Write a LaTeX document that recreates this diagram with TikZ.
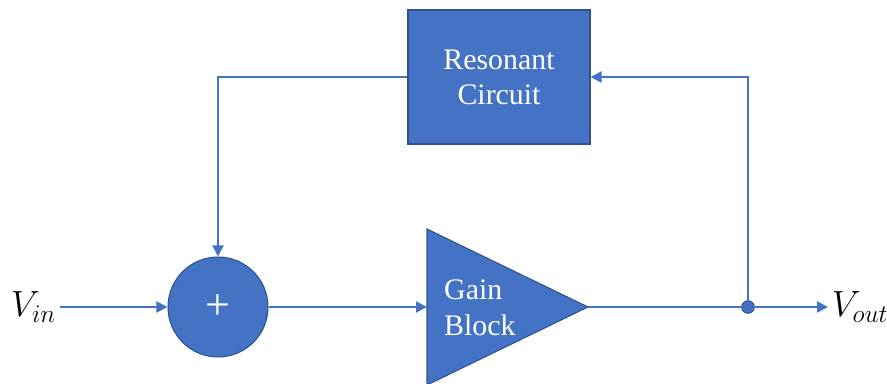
\documentclass[tikz,border=0pt]{standalone}
\usepackage{fontspec}
\setmainfont{Liberation Serif}
\usetikzlibrary{arrows.meta,positioning}
\definecolor{blockBlue}{HTML}{4472C4}
\definecolor{edgeBlue}{HTML}{2F528F}

\begin{document}
\begin{tikzpicture}[x=0.02cm,y=-0.02cm,
    sig/.style={blockBlue,line width=1.1pt,-{Triangle[length=2.2mm,width=2.2mm]}},
    wire/.style={blockBlue,line width=1.1pt},
    blk/.style={fill=blockBlue,draw=edgeBlue,line width=0.6pt,text=white,
      font=\fontsize{17}{20}\selectfont,align=center,inner sep=0pt}]
  \useasboundingbox (0,0) rectangle (887,383);

  % blocks
  \node[blk,minimum width=3.64cm,minimum height=2.68cm] (res) at (499,77) {Resonant\\Circuit};
  \node[blk,circle,minimum size=2cm,font=\fontsize{25}{25}\selectfont] (sum) at (218,307) {+};
  \filldraw[fill=blockBlue,draw=edgeBlue,line width=0.6pt] (427,229) -- (588,307) -- (427,385) -- cycle;
  \coordinate (gainin) at (427,307);
  \coordinate (gainout) at (588,307);
  \node[text=white,font=\fontsize{17}{20.5}\selectfont,align=left,anchor=west] (gain) at (438,308) {Gain\\Block};
  \node[circle,fill=blockBlue,draw=edgeBlue,line width=0.6pt,minimum size=0.25cm,inner sep=0pt] (tap) at (748,307) {};

  % signals
  \node[anchor=east,font=\fontsize{20}{24}\selectfont,inner sep=2pt] (vin) at (60,307) {$V_{in}$};
  \node[anchor=west,font=\fontsize{20}{24}\selectfont,inner sep=2pt] (vout) at (828,307) {$V_{out}$};

  \draw[sig] (vin) -- (sum);
  \draw[sig] (sum) -- (gainin);
  \draw[wire] (gainout) -- (tap);
  \draw[sig] (tap) -- (vout);
  \draw[sig] (tap) |- (res);
  \draw[sig] (res) -| (sum);
\end{tikzpicture}
\end{document}
